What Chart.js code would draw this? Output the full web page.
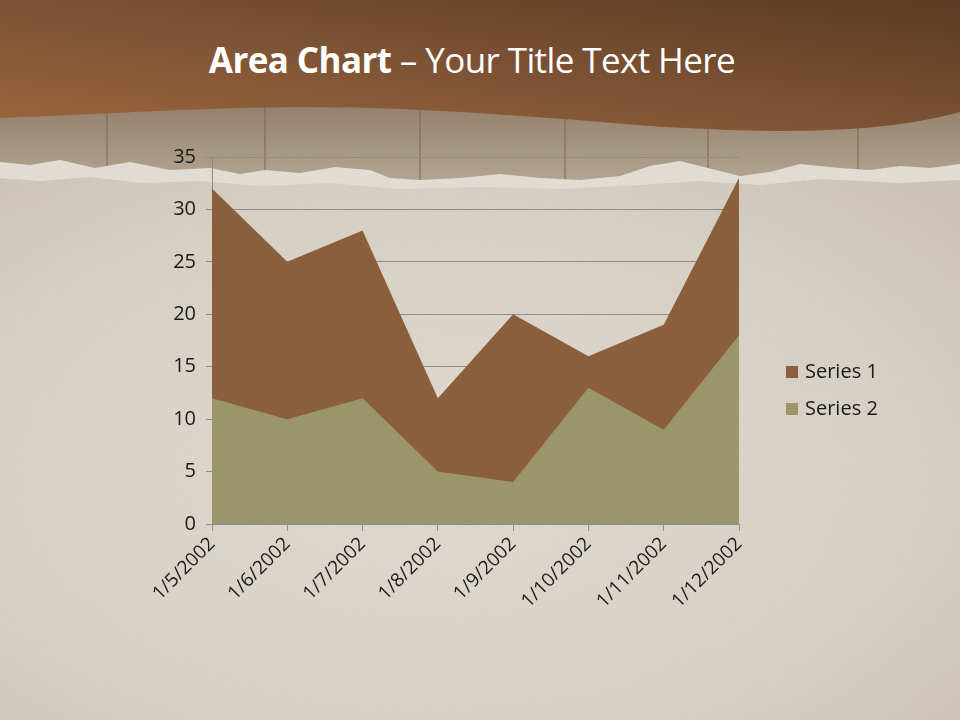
<!DOCTYPE html>
<html>
<head>
<meta charset="utf-8">
<script src="https://cdn.jsdelivr.net/npm/chart.js@4"></script>
<style>
  html, body { margin: 0; padding: 0; }
  body { width: 960px; height: 720px; overflow: hidden; position: relative; background: #e2dcd2; font-family: "Open Sans", "Noto Sans", sans-serif; }
  #bg { position: absolute; left: 0; top: 0; }
  #title { position: absolute; left: 0; top: 36px; width: 944px; text-align: center; color: #fff; font-size: 35px; white-space: nowrap; letter-spacing: -0.6px; }
  #title b { font-weight: 700; }
  #wrap { position: absolute; left: 0; top: 0; width: 960px; height: 720px; }
  .legend { position: absolute; left: 786px; font-size: 20px; color: #1a1a1a; }
  .legend span { display: inline-block; width: 12px; height: 12px; margin-right: 7px; vertical-align: 0px; }
</style>
</head>
<body>
<svg id="bg" width="960" height="720" xmlns="http://www.w3.org/2000/svg">
  <defs>
    <linearGradient id="head" x1="0" y1="1" x2="1" y2="0">
      <stop offset="0" stop-color="#9c653b"/>
      <stop offset="0.5" stop-color="#7c5234"/>
      <stop offset="1" stop-color="#5a3b23"/>
    </linearGradient>
    <radialGradient id="paper" cx="0.45" cy="0.55" r="0.75">
      <stop offset="0" stop-color="#e6e0d7"/>
      <stop offset="0.7" stop-color="#dbd4c9"/>
      <stop offset="1" stop-color="#cec6b9"/>
    </radialGradient>
    <linearGradient id="wood" x1="0" y1="0" x2="0" y2="1">
      <stop offset="0" stop-color="#8f7a64"/>
      <stop offset="1" stop-color="#b8aa97"/>
    </linearGradient>
    <filter id="noise">
      <feTurbulence type="fractalNoise" baseFrequency="0.9" numOctaves="2" seed="3"/>
      <feColorMatrix type="matrix" values="0 0 0 0 0.4  0 0 0 0 0.36  0 0 0 0 0.3  0 0 0 0.4 0"/>
    </filter>
  </defs>
  <rect width="960" height="720" fill="url(#paper)"/>
  <rect x="0" y="100" width="960" height="90" fill="url(#wood)"/>
  <g stroke="#6f5a45" stroke-width="2" opacity="0.45">
    <line x1="107" y1="100" x2="107" y2="190"/>
    <line x1="265" y1="100" x2="265" y2="190"/>
    <line x1="420" y1="100" x2="420" y2="190"/>
    <line x1="565" y1="100" x2="565" y2="190"/>
    <line x1="708" y1="100" x2="708" y2="190"/>
    <line x1="858" y1="100" x2="858" y2="190"/>
  </g>
  <path d="M0,162 L30,165 60,160 95,168 130,162 170,170 210,168 240,174 265,170 300,173 335,167 370,170 390,178 420,180 460,178 500,174 540,178 580,180 620,176 650,166 680,161 700,166 740,176 770,172 800,164 840,168 870,170 900,166 930,168 960,164 L960,720 L0,720 Z" fill="#e8e3db"/>
  <path d="M0,178 L40,181 90,177 140,183 200,181 260,186 330,183 400,189 480,187 560,189 640,185 700,181 760,185 820,179 900,183 960,180 L960,720 L0,720 Z" fill="url(#paper)"/>
  <rect width="960" height="720" filter="url(#noise)" opacity="0.55"/>
  <path d="M0,0 L960,0 L960,112 C880,134 780,134 650,126 C500,114 380,104 240,108 C140,111 60,116 0,118 Z" fill="url(#head)"/>
</svg>
<div id="title"><b>Area Chart</b> – Your Title Text Here</div>
<div id="wrap"><canvas id="chart" width="960" height="720"></canvas></div>
<div class="legend" style="top:357px"><span style="background:#8b5e3c"></span>Series 1</div>
<div class="legend" style="top:394px"><span style="background:#9a9669"></span>Series 2</div>
<script>
const labels = ['1/5/2002', '1/6/2002', '1/7/2002', '1/8/2002', '1/9/2002', '1/10/2002', '1/11/2002', '1/12/2002'];
const series1 = [32, 25, 28, 12, 20, 16, 19, 33];
const series2 = [12, 10, 12, 5, 4, 13, 9, 18];
const yTicks = [0, 5, 10, 15, 20, 25, 30, 35];

const ctx = document.getElementById('chart');
new Chart(ctx, {
    type: 'line',
    data: {
        labels: labels,
        datasets: [{
            label: 'Series 2',
            data: series2,
            fill: 'origin',
            backgroundColor: '#9a9669',
            borderWidth: 0,
            pointRadius: 0,
            tension: 0,
            order: 1
        },
        {
            label: 'Series 1',
            data: series1,
            fill: 'origin',
            backgroundColor: '#8b5e3c',
            borderWidth: 0,
            pointRadius: 0,
            tension: 0,
            order: 2
        }]
    },
    options: {
        responsive: false,
        animation: false,
        layout: { padding: { left: 140, right: 221, top: 157, bottom: 96 } },
        plugins: { legend: { display: false }, tooltip: { enabled: false } },
        scales: {
            x: {
                offset: false,
                grid: { display: true, drawOnChartArea: false, drawTicks: true, tickLength: 7, color: '#8c8c8c' },
                border: { color: '#8c8c8c', width: 1 },
                ticks: { minRotation: 45, maxRotation: 45, color: '#1a1a1a', font: { family: 'Open Sans', size: 19 }, padding: 2 },
                afterFit: (scale) => { scale.height = 100; }
            },
            y: {
                min: 0,
                max: 35,
                afterBuildTicks: (scale) => { scale.ticks = yTicks.map(v => ({ value: v })); },
                grid: { color: '#8c8c8c', tickLength: 6 },
                border: { color: '#8c8c8c', width: 1 },
                ticks: { color: '#1a1a1a', font: { family: 'Open Sans', size: 20 }, padding: 10 },
                afterFit: (scale) => { scale.width = 72; }
            }
        }
    }
});
</script>
</body>
</html>
